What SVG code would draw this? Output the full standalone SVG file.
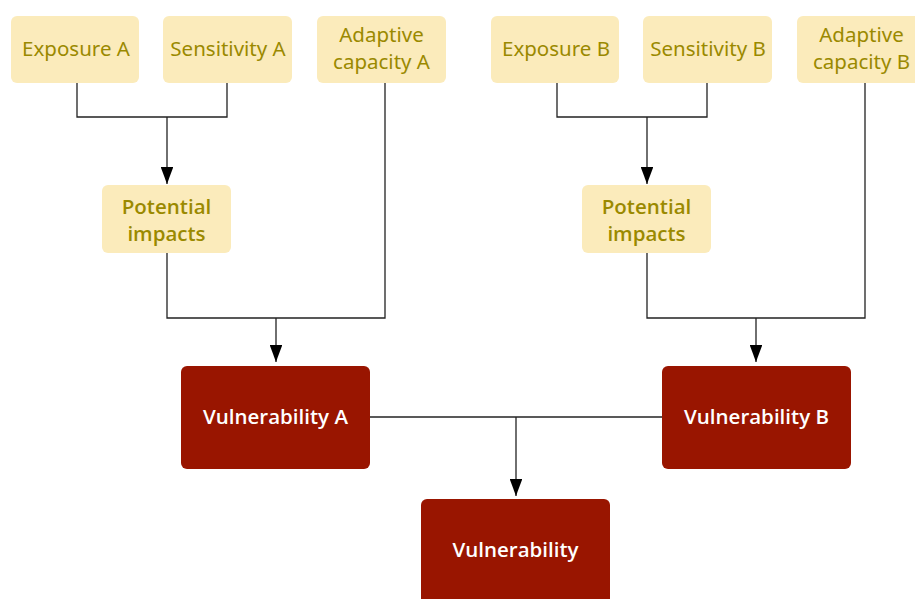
<svg xmlns="http://www.w3.org/2000/svg" width="915" height="599" viewBox="0 0 915 599">
<defs>
<marker id="arr" viewBox="0 0 17 12.6" refX="17" refY="6.3" markerWidth="17" markerHeight="12.6" markerUnits="userSpaceOnUse" orient="auto">
<path d="M0,0 L17,6.3 L0,12.6 Z" fill="#000"/>
</marker>
<style>
.y{fill:#fbebbb}
.r{fill:#991500}
.ty{fill:#9a8900;font-family:"Noto Sans","Open Sans",sans-serif;font-size:20.5px;text-anchor:middle}
.tb{font-family:"Open Sans","Noto Sans",sans-serif;font-weight:600}
.tw{fill:#fff;font-family:"Open Sans","Noto Sans",sans-serif;font-size:20.5px;font-weight:600;text-anchor:middle}
.c{fill:none;stroke:#222;stroke-width:1.3}
</style>
</defs>
<rect width="915" height="599" fill="#fff"/>
<g id="connectors">
<path class="c" d="M77,83 V117 H227 V83"/>
<path class="c" d="M167,117 V184" marker-end="url(#arr)"/>
<path class="c" d="M167,253 V318 H385 V83"/>
<path class="c" d="M276,318 V362" marker-end="url(#arr)"/>
<path class="c" d="M557,83 V117 H707 V83"/>
<path class="c" d="M647,117 V184" marker-end="url(#arr)"/>
<path class="c" d="M647,253 V318 H865 V83"/>
<path class="c" d="M756,318 V362" marker-end="url(#arr)"/>
<path class="c" d="M370,417 H662"/>
<path class="c" d="M516,417 V496" marker-end="url(#arr)"/>
</g>
<g id="exposureA"><rect class="y" x="11" y="16" width="128" height="67" rx="6"/><text class="ty" x="76" y="56">Exposure A</text></g>
<g id="sensitivityA"><rect class="y" x="163" y="16" width="129" height="67" rx="6"/><text class="ty" x="228" y="56">Sensitivity A</text></g>
<g id="adaptiveA"><rect class="y" x="317" y="16" width="129" height="67" rx="6"/><text class="ty" x="381.5" y="42">Adaptive</text><text class="ty" x="381.5" y="69">capacity A</text></g>
<g id="potentialA"><rect class="y" x="102" y="185" width="129" height="68" rx="6"/><text class="ty tb" x="166.5" y="214">Potential</text><text class="ty tb" x="166.5" y="241">impacts</text></g>
<g id="exposureB"><rect class="y" x="491" y="16" width="128" height="67" rx="6"/><text class="ty" x="556" y="56">Exposure B</text></g>
<g id="sensitivityB"><rect class="y" x="643" y="16" width="129" height="67" rx="6"/><text class="ty" x="708" y="56">Sensitivity B</text></g>
<g id="adaptiveB"><rect class="y" x="797" y="16" width="129" height="67" rx="6"/><text class="ty" x="861.5" y="42">Adaptive</text><text class="ty" x="861.5" y="69">capacity B</text></g>
<g id="potentialB"><rect class="y" x="582" y="185" width="129" height="68" rx="6"/><text class="ty tb" x="646.5" y="214">Potential</text><text class="ty tb" x="646.5" y="241">impacts</text></g>
<g id="vulnA"><rect class="r" x="181" y="366" width="189" height="103" rx="6"/><text class="tw" x="275.5" y="423.5">Vulnerability A</text></g>
<g id="vulnB"><rect class="r" x="662" y="366" width="189" height="103" rx="6"/><text class="tw" x="756.5" y="423.5">Vulnerability B</text></g>
<g id="vuln"><rect class="r" x="421" y="499" width="189" height="110" rx="6"/><text class="tw" x="515.5" y="556.5">Vulnerability</text></g>
</svg>
